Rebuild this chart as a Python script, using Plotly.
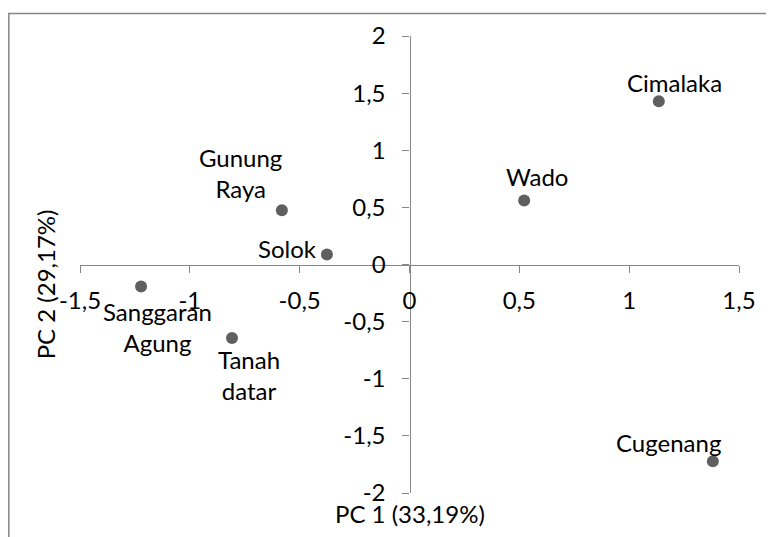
import plotly.graph_objects as go

# ---- data ----
names = ["Cimalaka", "Wado", "Gunung<br>Raya", "Solok", "Sanggaran<br>Agung", "Tanah<br>datar", "Cugenang"]
pc1 = [1.135, 0.522, -0.581, -0.376, -1.222, -0.808, 1.381]
pc2 = [1.429, 0.56, 0.474, 0.087, -0.193, -0.643, -1.723]
x_ticks = [-1.5, -1, -0.5, 0, 0.5, 1, 1.5]
x_tick_labels = ["-1,5", "-1", "-0,5", "0", "0,5", "1", "1,5"]
y_ticks = [-2, -1.5, -1, -0.5, 0, 0.5, 1, 1.5, 2]
y_tick_labels = ["-2", "-1,5", "-1", "-0,5", "0", "0,5", "1", "1,5", "2"]
x_title = "PC 1 (33,19%)"
y_title = "PC 2 (29,17%)"

# label offsets (px) from each point: (right, up)
label_offsets = [(16, 19), (13, 24), (-41, 37), (-39, 6), (16, -40), (17, -37), (-44, 19)]

FONT = "Lato"
FS = 24
AXIS_COLOR = "#868686"

fig = go.Figure(go.Scatter(
    x=pc1, y=pc2, mode="markers",
    marker=dict(size=12, color="#5f5f5f"),
    hoverinfo="skip", showlegend=False,
))

annotations = []
for n, x, y, (dx, dy) in zip(names, pc1, pc2, label_offsets):
    annotations.append(dict(
        x=x, y=y, xref="x", yref="y", text=n, showarrow=False,
        xanchor="center", yanchor="middle", align="center",
        xshift=dx, yshift=dy, font=dict(family=FONT, size=FS, color="#000000"),
    ))
annotations.append(dict(
    x=0.5, y=0, xref="paper", yref="paper", text=x_title, showarrow=False,
    xanchor="center", yanchor="middle", yshift=-20,
    font=dict(family=FONT, size=FS, color="#000000"),
))
annotations.append(dict(
    x=-0.052, y=0.456, xref="paper", yref="paper", text=y_title, showarrow=False,
    xanchor="center", yanchor="middle", textangle=-90,
    font=dict(family=FONT, size=FS, color="#000000"),
))

fig.update_layout(
    width=774, height=537,
    margin=dict(l=71.5, r=42.5, t=22.7, b=52.3),
    paper_bgcolor="white", plot_bgcolor="white",
    font=dict(family=FONT, size=FS, color="#000000"),
    annotations=annotations,
    shapes=[dict(
        type="rect", xref="paper", yref="paper",
        x0=-0.108, x1=2, y0=-1, y1=1.049,
        line=dict(color=AXIS_COLOR, width=1.5), fillcolor="rgba(0,0,0,0)",
        layer="below",
    )],
    xaxis=dict(
        range=[-1.5, 1.5], tickvals=x_ticks, ticktext=x_tick_labels,
        showgrid=False, zeroline=False, showline=True, linecolor=AXIS_COLOR, linewidth=1.3,
        ticks="outside", ticklen=7, tickcolor=AXIS_COLOR, tickwidth=1.3,
        anchor="free", position=0.5, ticklabelstandoff=8,
        tickfont=dict(family=FONT, size=FS, color="#000000"),
    ),
    yaxis=dict(
        range=[-2, 2], tickvals=y_ticks, ticktext=y_tick_labels,
        showgrid=False, zeroline=False, showline=True, linecolor=AXIS_COLOR, linewidth=1.3,
        ticks="outside", ticklen=7, tickcolor=AXIS_COLOR, tickwidth=1.3,
        anchor="free", position=0.5, ticklabelstandoff=12,
        tickfont=dict(family=FONT, size=FS, color="#000000"),
    ),
)

fig.write_html("out.html")
